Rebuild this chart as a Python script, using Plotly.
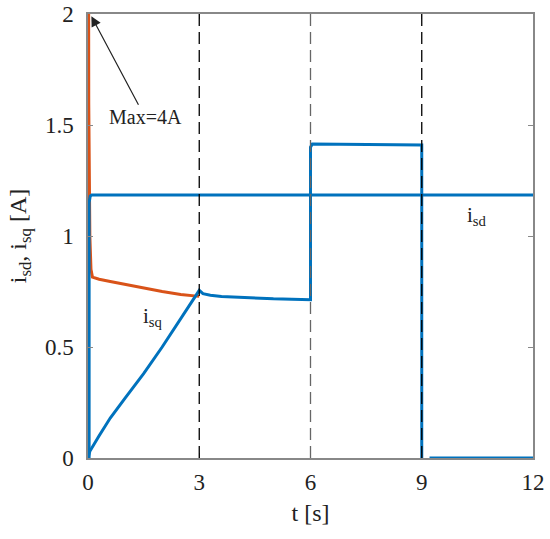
import plotly.graph_objects as go

# ---- data ----
t_isd = [0, 0.03, 0.03, 0.06, 0.1, 12]
i_sd = [0, 0, 1.15, 1.18, 1.185, 1.185]

t_isq = [0, 0.05, 0.3, 0.6, 1.0, 1.5, 2.0, 2.5, 3.0, 3.1, 3.3, 3.6, 4.0, 4.5, 5.0, 5.5, 6.0, 6.0, 6.05, 9.0, 9.0, 9.25, 9.25, 12]
i_sq = [0, 0.03, 0.1, 0.18, 0.27, 0.38, 0.5, 0.625, 0.755, 0.74, 0.733, 0.728, 0.724, 0.72, 0.717, 0.715, 0.713, 1.40, 1.414, 1.41, -0.03, -0.03, 0.0, 0.0]

t_ref = [0, 0.005, 0.02, 0.05, 0.08, 0.12, 0.3, 0.6, 1.0, 1.5, 2.0, 2.5, 3.0]
i_ref = [0, 4.0, 1.6, 1.0, 0.85, 0.815, 0.805, 0.795, 0.782, 0.765, 0.75, 0.737, 0.728]

events = [3, 6, 9]
event_colors = ["#000000", "#666666", "#000000"]

x_ticks = [0, 3, 6, 9, 12]
y_ticks = [0, 0.5, 1, 1.5, 2]

BLUE = "#0072BD"
ORANGE = "#D95319"
FONT = "Liberation Serif"
TXT = "#222222"

fig = go.Figure()
fig.add_trace(go.Scatter(x=t_ref, y=i_ref, mode="lines", line=dict(color=ORANGE, width=3), showlegend=False))
fig.add_trace(go.Scatter(x=t_isd, y=i_sd, mode="lines", line=dict(color=BLUE, width=3), showlegend=False))
fig.add_trace(go.Scatter(x=t_isq, y=i_sq, mode="lines", line=dict(color=BLUE, width=3), showlegend=False))

for xe, c in zip(events, event_colors):
    fig.add_shape(type="line", xref="x", yref="y", x0=xe, x1=xe, y0=0, y1=2,
                  line=dict(color=c, width=1.3, dash="12px,6px"), layer="above")

fig.add_annotation(x=0.09, y=1.99, xref="x", yref="y", ax=1.54, ay=1.535, axref="x", ayref="y",
                   text="Max=4A", showarrow=True, arrowhead=2, arrowsize=1.7, arrowwidth=1.2,
                   arrowcolor=TXT, font=dict(family=FONT, size=20, color=TXT))
fig.add_annotation(x=1.75, y=0.635, xref="x", yref="y", text="i<sub>sq</sub>", showarrow=False,
                   font=dict(family=FONT, size=21, color=TXT))
fig.add_annotation(x=10.5, y=1.09, xref="x", yref="y", text="i<sub>sd</sub>", showarrow=False,
                   font=dict(family=FONT, size=21, color=TXT))

axis_common = dict(showgrid=False, zeroline=False, showline=True, linecolor="#888888", linewidth=1.5,
                   mirror="ticks", ticks="inside", ticklen=5, tickcolor="#888888", tickwidth=1,
                   tickfont=dict(family=FONT, size=23, color=TXT), automargin=False,
                   ticklabeloverflow="allow")

fig.update_xaxes(range=[0, 12], tickvals=x_ticks, ticktext=[str(v) for v in x_ticks],
                 ticklabelstandoff=3,
                 title=dict(text="t [s]", font=dict(family=FONT, size=24, color=TXT), standoff=10),
                 **axis_common)
fig.update_yaxes(range=[0, 2], tickvals=y_ticks, ticktext=["0", "0.5", "1", "1.5", "2"],
                 ticklabelstandoff=8,
                 title=dict(text="i<sub>sd</sub>, i<sub>sq</sub> [A]", font=dict(family=FONT, size=24, color=TXT), standoff=12),
                 **axis_common)

fig.update_layout(width=550, height=539, margin=dict(l=88, r=17, t=14, b=81),
                  plot_bgcolor="white", paper_bgcolor="white")

# remove the browser's default 8px body margin so the figure fills the window exactly
fig.write_html("out.html", config={"displayModeBar": False},
               post_script="document.body.style.margin='0';")
